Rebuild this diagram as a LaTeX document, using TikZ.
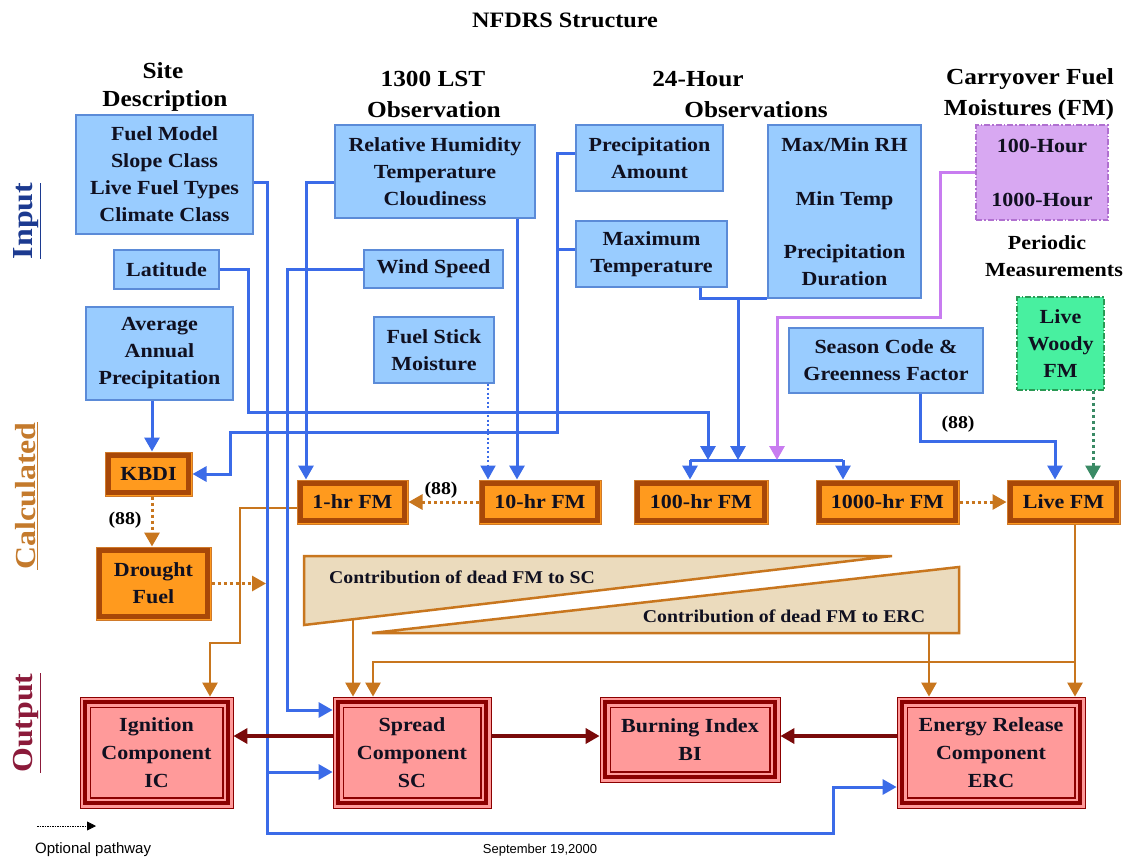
\documentclass[tikz,border=0pt]{standalone}
\usepackage{fontspec}
\setmainfont{Liberation Serif}[FakeStretch=1.1]
\newfontfamily\sansf{Liberation Sans}
\usetikzlibrary{arrows.meta}
\definecolor{bfill}{HTML}{99CCFF}
\definecolor{bdraw}{HTML}{5B8BD8}
\definecolor{bline}{HTML}{3B6BE8}
\definecolor{ofill}{HTML}{FF9A1E}
\definecolor{oband}{HTML}{A84808}
\definecolor{oedge}{HTML}{D07A2A}
\definecolor{oline}{HTML}{C8761E}
\definecolor{rfill}{HTML}{FF9A9A}
\definecolor{rband}{HTML}{8B0000}
\definecolor{dred}{HTML}{7A0A0A}
\definecolor{pfill}{HTML}{D8A8F2}
\definecolor{pdraw}{HTML}{B070D0}
\definecolor{pline}{HTML}{C87CF0}
\definecolor{gfill}{HTML}{48F0A0}
\definecolor{gdraw}{HTML}{2A9A55}
\definecolor{gline}{HTML}{3A8A65}
\definecolor{tanf}{HTML}{EBDBBD}
\definecolor{inputc}{HTML}{1C3A90}
\definecolor{calcc}{HTML}{C47A2C}
\definecolor{outc}{HTML}{8B1A3A}
\definecolor{txt}{HTML}{101020}
\tikzset{
  boxtext/.style={font=\fontsize{20}{27}\selectfont\bfseries, align=center, inner sep=0pt, text=txt},
  bluebox/.style={boxtext, draw=bdraw, fill=bfill, line width=1.2pt},
  orbox/.style={boxtext, draw=oedge, fill=ofill, line width=1pt},
  redbox/.style={boxtext, draw=rband, fill=rfill, line width=0.8pt, font=\fontsize{20}{28}\selectfont\bfseries},
  purplebox/.style={boxtext, draw=pdraw, fill=pfill, line width=1.5pt, dash pattern=on 6pt off 2pt on 1.5pt off 2pt},
  greenbox/.style={boxtext, draw=gdraw, fill=gfill, line width=1.5pt, dash pattern=on 6pt off 2pt on 1.5pt off 2pt},
  hdr/.style={font=\fontsize{23}{30}\selectfont\bfseries, inner sep=0pt},
  subhdr/.style={font=\fontsize{20}{26}\selectfont\bfseries, inner sep=0pt},
  side/.style={font=\fontsize{29}{32}\selectfont\bfseries, rotate=90, inner sep=0pt},
  lbl/.style={font=\fontsize{18}{22}\selectfont\bfseries, inner sep=0pt},
  wedge/.style={draw=oline, fill=tanf, line width=2.5pt, line join=miter},
  wtext/.style={font=\fontsize{18}{22}\selectfont\bfseries, inner sep=0pt, text=txt},
  tipb/.style={-{Triangle[length=14pt,width=15pt]}},
  bl/.style={draw=bline, line width=3pt},
  bldot/.style={draw=bline, line width=2pt, dash pattern=on 2pt off 2.5pt},
  pl/.style={draw=pline, line width=3pt},
  gl/.style={draw=gline, line width=3pt, dash pattern=on 3pt off 3pt},
  ol/.style={draw=oline, line width=2.5pt},
  odot/.style={draw=oline, line width=3pt, dash pattern=on 3pt off 3pt},
  drl/.style={draw=dred, line width=4pt},
}
\begin{document}
\begin{tikzpicture}[x=1pt,y=-1pt]
\useasboundingbox (0,0) rectangle (1131,860);
\fill[white] (0,0) rectangle (1131,860);

% ---------- titles and headers
\node[hdr, font=\fontsize{22}{28}\selectfont\bfseries] (title) at (565,20) {NFDRS Structure};
\node[hdr] (hs1) at (163,71) {Site};
\node[hdr] (hs2) at (165,101) {Description};
\node[hdr] (ho1) at (433,79) {1300 LST};
\node[hdr] (ho2) at (434,110) {Observation};
\node[hdr] (hd1) at (698,79) {24-Hour};
\node[hdr] (hd2) at (756,110) {Observations};
\node[hdr] (hc1) at (1030,79) {Carryover Fuel};
\node[hdr] (hc2) at (1029,110) {Moistures (FM)};
\node[subhdr] (pm1) at (1047,243) {Periodic};
\node[subhdr] (pm2) at (1054,270) {Measurements};

% ---------- side labels
\node[side, text=inputc] (lin) at (27,221) {\underline{Input}};
\node[side, text=calcc] (lcalc) at (27,496) {\underline{Calculated}};
\node[side, text=outc] (lout) at (27,723) {\underline{Output}};

% ---------- wedges
\draw[wedge] (304,556) -- (892,556) -- (304,625) -- cycle;
\draw[wedge] (959,567) -- (959,633) -- (372,633) -- cycle;
\node[wtext] (wsc) at (462,577) {Contribution of dead FM to SC};
\node[wtext] (werc) at (784,616) {Contribution of dead FM to ERC};
\coordinate (wscout) at (353,619);
\coordinate (wercout) at (929,633);

% ---------- input boxes
\node[bluebox, minimum width=177pt, minimum height=119pt] (site) at (164.5,174.5) {Fuel Model\\Slope Class\\Live Fuel Types\\Climate Class};
\node[bluebox, minimum width=105pt, minimum height=39pt] (lat) at (166.5,269.5) {Latitude};
\node[bluebox, minimum width=147pt, minimum height=93pt] (aap) at (159.5,353.5) {Average\\Annual\\Precipitation};
\node[bluebox, minimum width=200pt, minimum height=93pt] (rh) at (435,171.5) {Relative Humidity\\Temperature\\Cloudiness};
\node[bluebox, minimum width=139pt, minimum height=38pt] (wind) at (433.5,269) {Wind Speed};
\node[bluebox, minimum width=120pt, minimum height=66pt] (fsm) at (434,350) {Fuel Stick\\Moisture};
\node[bluebox, minimum width=147pt, minimum height=66pt] (pa) at (649.5,158) {Precipitation\\Amount};
\node[bluebox, minimum width=151pt, minimum height=66pt] (mt) at (651.5,254) {Maximum\\Temperature};
\node[bluebox, minimum width=153pt, minimum height=173pt] (mmrh) at (844.5,211.5) {Max/Min RH\\[27pt]Min Temp\\[26pt]Precipitation\\Duration};
\node[bluebox, minimum width=194pt, minimum height=65pt] (season) at (886,360.5) {Season Code \&\\Greenness Factor};
\node[purplebox, minimum width=132pt, minimum height=95pt] (carry) at (1042,172.5) {100-Hour\\[27pt]1000-Hour};
\node[greenbox, minimum width=87pt, minimum height=93pt] (woody) at (1060.5,343.5) {Live\\Woody\\FM};

% ---------- calculated boxes
\node[orbox, minimum width=87pt, minimum height=44pt] (kbdi) at (148.5,474) {KBDI};
\node[orbox, minimum width=111pt, minimum height=44pt] (h1) at (352.5,502) {1-hr FM};
\node[orbox, minimum width=122pt, minimum height=44pt] (h10) at (540,502) {10-hr FM};
\node[orbox, minimum width=134pt, minimum height=44pt] (h100) at (701,502) {100-hr FM};
\node[orbox, minimum width=143pt, minimum height=44pt] (h1000) at (887.5,502) {1000-hr FM};
\node[orbox, minimum width=113pt, minimum height=44pt] (live) at (1063.5,502) {Live FM};
\node[orbox, minimum width=115pt, minimum height=73pt] (drought) at (153.5,583.5) {Drought\\Fuel};
\foreach \n in {kbdi,h1,h10,h100,h1000,live,drought}{
  \draw[oband, line width=5pt] ([shift={(4pt,4pt)}]\n.south west) rectangle ([shift={(-4pt,-4pt)}]\n.north east);
}

% ---------- output boxes
\node[redbox, minimum width=153pt, minimum height=111pt] (ic) at (156.5,752.5) {Ignition\\Component\\IC};
\node[redbox, minimum width=158pt, minimum height=111pt] (sc) at (412,752.5) {Spread\\Component\\SC};
\node[redbox, minimum width=180pt, minimum height=85pt] (bi) at (690,739.5) {Burning Index\\BI};
\node[redbox, minimum width=188pt, minimum height=111pt] (erc) at (991,752.5) {Energy Release\\Component\\ERC};
\foreach \n in {ic,sc,bi,erc}{
  \draw[rband, line width=4.5pt] ([shift={(5.5pt,5.5pt)}]\n.south west) rectangle ([shift={(-5.5pt,-5.5pt)}]\n.north east);
  \draw[rband, line width=1.2pt] ([shift={(10.5pt,10.5pt)}]\n.south west) rectangle ([shift={(-10.5pt,-10.5pt)}]\n.north east);
}

% ---------- orange connectors
\coordinate (dend) at (266,583.5);
\draw[odot,tipb] ([xshift=3.5pt]kbdi.south) -- ([xshift=-1.5pt]drought.north);
\draw[odot,tipb] (drought.east) -- (dend);
\draw[odot,tipb] (h10.west) -- (h1.east);
\draw[odot,tipb] (h1000.east) -- (live.west);
\draw[ol,tipb] ([yshift=-6pt]h1.west) -| (240,643) -| ([xshift=53.5pt]ic.north);
\draw[ol,tipb] (wscout) -- ([xshift=-59pt]sc.north);
\draw[ol,tipb] ([xshift=11.5pt]live.south) -- ([xshift=84pt]erc.north);
\coordinate (jlive) at (1075,662);
\draw[ol,tipb] (jlive) -| ([xshift=-39pt]sc.north);
\draw[ol,tipb] (wercout) -- ([xshift=-62pt]erc.north);
\node[lbl] (l88a) at (125,520) {(88)};
\node[lbl] (l88b) at (441,490) {(88)};
\node[lbl] (l88c) at (958,424) {(88)};

% ---------- blue connectors
\coordinate (jsc) at (267,772);
\coordinate (barL) at (690,460);
\coordinate (barR) at (843,460);
\coordinate (bar1) at (708,460);
\coordinate (bar2) at (738,460);
\coordinate (bar3) at (777,460);
\coordinate (jmt) at (738,298);
\draw[bl,tipb] ([yshift=-7.5pt]site.east) -| (267,833) -| (833,787) -- ([yshift=-34.5pt]erc.west);
\draw[bl,tipb] (jsc) -- ([yshift=-19.5pt]sc.west);
\draw[bl,tipb] (lat.east) -| (248,412) -| (bar1);
\draw[bl,tipb] (wind.west) -| (287,710) -- ([yshift=42.5pt]sc.west);
\draw[bl,tipb] ([yshift=-10.5pt]rh.west) -| ([xshift=-46.5pt]h1.north);
\draw[bl,tipb] ([xshift=82pt]rh.south) -- ([xshift=-23pt]h10.north);
\draw[bldot,tipb] ([xshift=54pt]fsm.south) -- ([xshift=-52pt]h10.north);
\draw[bl,tipb] ([yshift=5pt]pa.west) -| (557,432) -| (230,474) -- (kbdi.east);
\draw[bl] ([yshift=5pt]mt.west) -- (557,249);
\draw[bl] ([xshift=48.5pt]mt.south) |- (mmrh.south west);
\draw[bl,tipb] (jmt) -- (bar2);
\draw[bl] (barL) -- (barR);
\draw[bl,tipb] (barL) -- ([xshift=-11pt]h100.north);
\draw[bl,tipb] (barR) -- ([xshift=-44.5pt]h1000.north);
\draw[bl,tipb] ([xshift=-7.5pt]aap.south) -- ([xshift=3.5pt]kbdi.north);
\draw[bl,tipb] ([xshift=34pt]season.south) |- (1055,441) -- ([xshift=-8.5pt]live.north);
\draw[pl,tipb] (carry.west) -| (940,317) -| (bar3);
\draw[gl,tipb] ([xshift=32.5pt]woody.south) -- ([xshift=29.5pt]live.north);

% ---------- dark red connectors
\draw[drl,tipb] ([yshift=16.5pt]sc.west) -- ([yshift=16.5pt]ic.east);
\draw[drl,tipb] ([yshift=16.5pt]sc.east) -- ([yshift=3.5pt]bi.west);
\draw[drl,tipb] ([yshift=16.5pt]erc.west) -- ([yshift=3.5pt]bi.east);

% ---------- legend and date
\coordinate (lg1) at (37,826);
\coordinate (lg2) at (96,826);
\draw[black, line width=0.8pt, dash pattern=on 1.5pt off 1pt, -{Triangle[length=9pt,width=9pt]}] (lg1) -- (lg2);
\node[anchor=west, font=\sansf\fontsize{15}{18}\selectfont, inner sep=0pt] (optp) at (35,850) {Optional pathway};
\node[font=\sansf\fontsize{13}{15}\selectfont, inner sep=0pt] (date) at (540,850) {September 19,2000};
\end{tikzpicture}
\end{document}
